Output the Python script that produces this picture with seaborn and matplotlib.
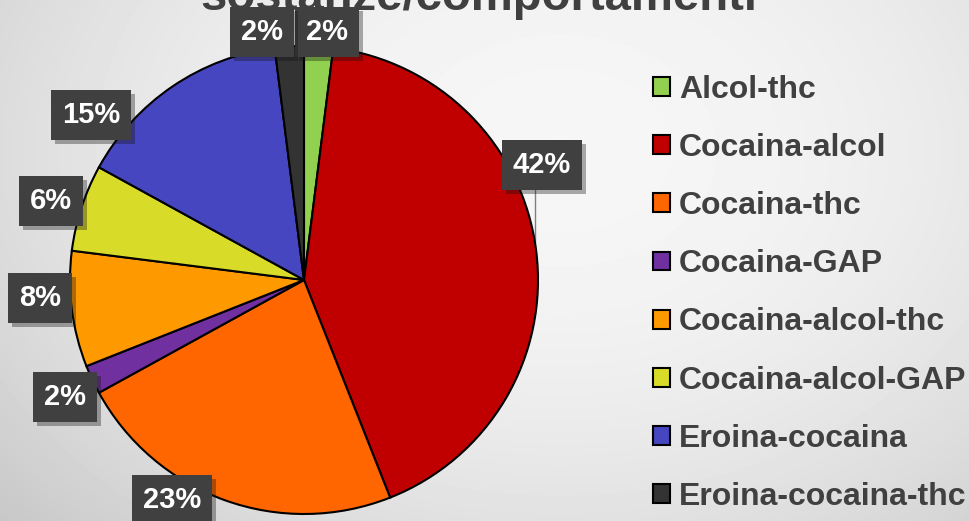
import numpy as np
import matplotlib
matplotlib.use('Agg')
import matplotlib.pyplot as plt
import matplotlib.patheffects as pe
import seaborn as sns

# data
categories = ['Alcol-thc', 'Cocaina-alcol', 'Cocaina-thc', 'Cocaina-GAP',
              'Cocaina-alcol-thc', 'Cocaina-alcol-GAP', 'Eroina-cocaina',
              'Eroina-cocaina-thc']
percent = [2, 42, 23, 2, 8, 6, 15, 2]
colors = ['#92D050', '#C00000', '#FF6600', '#7030A0',
          '#FF9900', '#D8DC28', '#4646C0', '#333333']
title = 'sostanze/comportamenti'

# layout (pixel coords, y from top)
W, H = 969, 521
center = (304, 280)
radius = 234
label_pos = [(327, 32), (542, 165), (172, 500), (65, 397),
             (40, 298), (51, 201), (91, 115), (262, 32)]

sns.set_style('white')
plt.rcParams['font.family'] = ['Liberation Sans', 'DejaVu Sans']
text_col = '#404040'

fig = plt.figure(figsize=(W / 100, H / 100), dpi=100)

# radial grey background
bg = fig.add_axes([0, 0, 1, 1])
yy, xx = np.mgrid[0:H, 0:W]
r2 = ((xx - 560) / 700) ** 2 + ((yy - 150) / 520) ** 2
shade = np.clip(0.965 - 0.16 * r2, 0, 1)
bg.imshow(shade, cmap='gray', vmin=0, vmax=1, extent=(0, W, H, 0), aspect='auto')
bg.axis('off')

ax = fig.add_axes([0, 0, 1, 1])
ax.patch.set_alpha(0)
wedges, _ = ax.pie(percent, colors=colors, startangle=90, counterclock=False,
                   center=(center[0], H - center[1]), radius=radius,
                   wedgeprops=dict(edgecolor='black', linewidth=1.5))
ax.set_xlim(0, W)
ax.set_ylim(0, H)
ax.set_aspect('equal')
ax.axis('off')

# data labels
for (lx, ly), p in zip(label_pos, percent):
    t = ax.text(lx, H - ly, f'{p}%', ha='center', va='center', color='white',
                fontsize=21, fontweight='bold',
                bbox=dict(boxstyle='square,pad=0.38', fc='#404040', ec='none'))
    t.get_bbox_patch().set_path_effects(
        [pe.SimplePatchShadow(offset=(3, -3), alpha=0.35), pe.Normal()])

# leader line for the big slice
lx, ly = label_pos[1]
yline = center[1] - np.sqrt(radius ** 2 - (lx - 7 - center[0]) ** 2)
ax.plot([lx - 7, lx - 7], [H - ly - 22, H - yline], color='#7f7f7f', lw=1, zorder=0.5)

# title (cut off at the top, as in the original)
fig.text(479 / W, 1 - 10 / H, title, ha='center', va='baseline',
         fontsize=34, fontweight='bold', color=text_col)

leg = ax.legend(wedges, categories, loc='upper left',
                bbox_to_anchor=(653 / W, 1 - 75 / H), bbox_transform=fig.transFigure,
                frameon=False, prop=dict(size=23, weight='bold'),
                handlelength=0.53, handleheight=0.53, handletextpad=0.28,
                labelspacing=0.88, borderpad=0, borderaxespad=0)
for txt in leg.get_texts():
    txt.set_color(text_col)

fig.savefig('out.png', dpi=100)
